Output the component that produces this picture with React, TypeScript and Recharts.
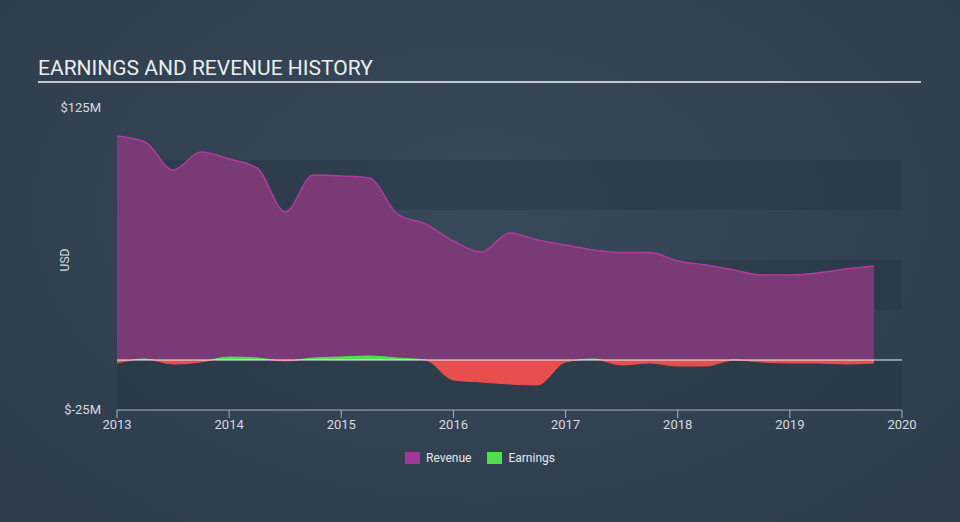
import React from "react";
import { Area, AreaChart, CartesianGrid, ReferenceLine, XAxis, YAxis } from "recharts";

const quarters = [
  2013, 2013.25, 2013.5, 2013.75, 2014, 2014.25, 2014.5, 2014.75, 2015, 2015.25, 2015.5, 2015.75,
  2016, 2016.25, 2016.5, 2016.75, 2017, 2017.25, 2017.5, 2017.75, 2018, 2018.25, 2018.5, 2018.75,
  2019, 2019.25, 2019.5, 2019.75,
];
const revenue = [
  112, 109, 95, 104, 100.5, 96, 74, 92.5, 92, 91, 73, 68,
  59.5, 54, 63.5, 60, 57.5, 55, 53.7, 53.7, 49.5, 47.5, 45, 42.5,
  42.5, 43.5, 45.5, 47,
];
const earnings = [
  -1.5, 0.5, -2, -1, 1.5, 1, -0.5, 1, 1.5, 2, 1, 0,
  -10, -11, -12, -12.5, -1, 0.5, -2.5, -1.5, -3, -3, 0, -1,
  -1.5, -1.5, -2, -1.5,
];
const yearTicks = [2013, 2014, 2015, 2016, 2017, 2018, 2019, 2020];
const valueTicks = [-25, 0, 25, 50, 75, 100, 125];
const labelledTicks = [-25, 125];
const legendItems = [
  { name: "Revenue", color: "#a0379a" },
  { name: "Earnings", color: "#4fe04f" },
];

const data = quarters.map((q, i) => ({ q, revenue: revenue[i], earnings: earnings[i] }));

const eMax = Math.max(...earnings);
const eMin = Math.min(...earnings);
const zeroOffset = eMax / (eMax - eMin);

const font = "Roboto, 'Noto Sans', sans-serif";

function YTick(props: any) {
  const { x, y, payload } = props;
  if (!labelledTicks.includes(payload.value)) return null;
  const v = payload.value;
  return (
    <text x={x - 8} y={y + (v < 0 ? 4 : 2)} textAnchor="end" fill="#d6dbe0" fontSize={13} fontFamily={font}>
      {"$" + v + "M"}
    </text>
  );
}

export default function App() {
  return (
    <div
      style={{
        position: "absolute",
        left: 0,
        top: 0,
        width: 960,
        height: 522,
        background: "radial-gradient(ellipse at 50% 40%, #37495b 0%, #2e3c4b 100%)",
        overflow: "hidden",
      }}
    >
      <div
        style={{
          position: "absolute",
          left: 38,
          top: 56,
          fontFamily: font,
          fontSize: 21,
          color: "#eceef0",
        }}
      >
        EARNINGS AND REVENUE HISTORY
      </div>
      <div style={{ position: "absolute", left: 38, top: 81, width: 883, height: 2, background: "#c4c8cc" }} />
      <div
        style={{
          position: "absolute",
          left: 65,
          top: 260,
          transform: "translate(-50%, -50%) rotate(-90deg)",
          fontFamily: font,
          fontSize: 12,
          color: "#d6dbe0",
        }}
      >
        USD
      </div>
      <div style={{ position: "absolute", left: 0, top: 0 }}>
        <AreaChart width={960} height={522} data={data} margin={{ top: 110, right: 58, bottom: 82, left: 0 }}>
          <defs>
            <linearGradient id="earnSplit" x1="0" y1="0" x2="0" y2="1">
              <stop offset={zeroOffset} stopColor="#4fe04f" stopOpacity={1} />
              <stop offset={zeroOffset} stopColor="#e84e4e" stopOpacity={1} />
            </linearGradient>
          </defs>
          <CartesianGrid
            vertical={false}
            stroke="none"
            horizontalFill={["rgba(0,0,0,0)", "rgba(30,42,54,0.28)"]}
          />
          <XAxis
            dataKey="q"
            type="number"
            domain={[2013, 2020]}
            ticks={yearTicks}
            allowDecimals={false}
            stroke="#a9b3bd"
            tickSize={8}
            tick={{ fill: "#d6dbe0", fontSize: 13, fontFamily: font }}
            tickMargin={2}
            height={30}
          />
          <YAxis
            width={117}
            domain={[-25, 125]}
            ticks={valueTicks}
            axisLine={false}
            tickLine={false}
            tick={<YTick />}
            interval={0}
          />
          <ReferenceLine y={0} stroke="#eef0f2" strokeWidth={1.2} />
          <Area
            type="monotone"
            dataKey="revenue"
            fill="#7a3a76"
            fillOpacity={1}
            stroke="#b03a9e"
            strokeWidth={1.5}
            isAnimationActive={false}
          />
          <Area
            type="monotone"
            dataKey="earnings"
            fill="url(#earnSplit)"
            fillOpacity={1}
            stroke="url(#earnSplit)"
            strokeWidth={1}
            isAnimationActive={false}
          />
        </AreaChart>
      </div>
      <div
        style={{
          position: "absolute",
          left: 0,
          top: 451,
          width: 960,
          display: "flex",
          justifyContent: "center",
          gap: 16,
          fontFamily: font,
          fontSize: 12,
          color: "#e4e7ea",
          paddingLeft: 0,
        }}
      >
        {legendItems.map((it) => (
          <div key={it.name} style={{ display: "flex", alignItems: "center" }}>
            <span style={{ width: 15, height: 12, background: it.color, display: "inline-block", marginRight: 6 }} />
            {it.name}
          </div>
        ))}
      </div>
    </div>
  );
}
